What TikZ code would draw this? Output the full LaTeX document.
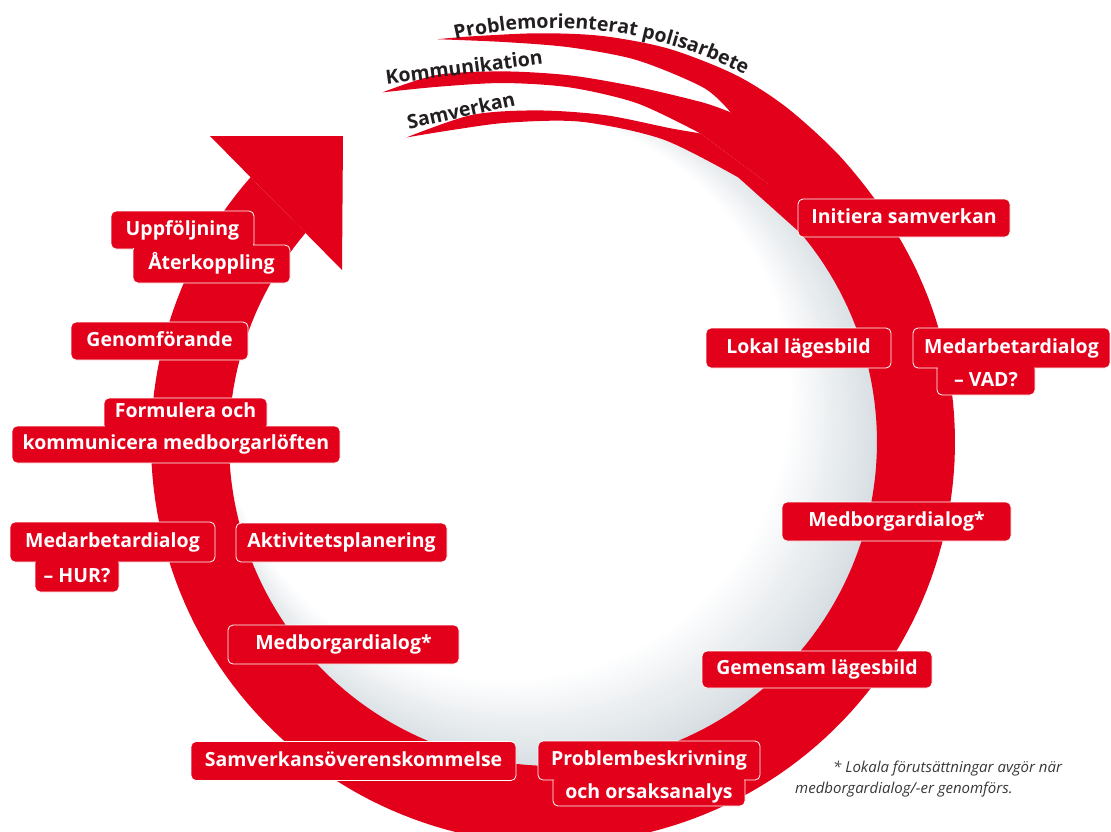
\documentclass[tikz,border=0pt]{standalone}
\usepackage{fontspec}
\setmainfont{Open Sans}
\usepackage{xcolor}
\usetikzlibrary{arrows,shapes,calc,positioning,decorations.text}
\definecolor{polred}{RGB}{226,0,26}
\definecolor{sphgray}{RGB}{208,216,222}
\definecolor{swoosh}{RGB}{35,31,32}
\definecolor{notegray}{RGB}{55,55,55}

\begin{document}
\begin{tikzpicture}[x=1pt, y=-1pt]
	\tikzstyle{pbox}=[rectangle, rounded corners=5pt, fill=polred, draw=white, line width=0.8pt, text=white, font=\fontsize{19.5}{22}\selectfont\bfseries, inner sep=0pt, outer sep=0pt, minimum height=38pt, text height=14.5pt, text depth=4pt]
	\tikzstyle{swtext}=[text=swoosh, font=\fontsize{19.5}{22}\selectfont\bfseries, inner sep=0pt]
	\useasboundingbox (0,0) rectangle (1111,831);
	\begin{scope}
		\clip (0,0) rectangle (1111,831);
		\begin{scope}
			\clip (553,442) circle[radius=328];
			\foreach \k in {0,...,40}{
				\pgfmathsetmacro{\tv}{\k/40}
				\pgfmathsetmacro{\gpct}{100*(1-\tv)}
				\fill[sphgray!\gpct!white] ({553-48*\tv},{442-47*\tv}) circle[radius={342-56*\tv}];
			}
		\end{scope}
		\fill[white] plot[domain=215:250, samples=20] ({553+300*cos(\x)},{442+300*sin(\x)}) -- plot[domain=250:215, samples=20] ({553+340*cos(\x)},{442+340*sin(\x)}) -- cycle;
		\fill[polred] plot[domain=-50:221.2, samples=160] ({553+402*cos(\x)},{442+402*sin(\x)}) -- plot[domain=220.2:-50, samples=160] ({553+324*cos(\x)},{442+324*sin(\x)}) -- cycle;
	\end{scope}
	\begin{scope}[shift={(553,442)}]
		\fill[polred] plot[smooth] coordinates {(-106:419) (-101.6:414) (-92:409) (-83:409) (-73.5:410) (-63.5:410) (-55:408) (-45:405) (-35:403) (-25:402)} -- (-25:380) -- plot[smooth] coordinates {(-61.7:374.5) (-67:385) (-77.6:391) (-87.5:395) (-97:403) (-106:419)} -- cycle;
		\fill[polred] plot[smooth] coordinates {(-116:389) (-107.6:385) (-97.7:374) (-87.3:367) (-76.6:365) (-66.3:371) (-61.7:374.5)} -- (-40:372) -- (-40:345) -- plot[smooth] coordinates {(-64.5:342) (-76:349) (-87.3:355) (-98:362.5) (-108:373.5) (-116:389)} -- cycle;
		\fill[polred] plot[smooth] coordinates {(-115.7:338) (-104:337) (-92.8:332) (-81:331) (-69.5:335) (-64.5:342)} -- (-40:345) -- (-40:324) -- plot[smooth] coordinates {(-55:323) (-70:322) (-85:321.5) (-98:322.5) (-108:328) (-115.7:338)} -- cycle;
	\end{scope}
	\fill[polred] (210,136) -- (343,136) -- (342,270) -- cycle;
	\path[decorate, decoration={text along path, text={|\fontsize{19.5}{22}\selectfont\bfseries\color{swoosh}|Problemorienterat polisarbete}, text align={center}}] plot[domain=-109:-57, samples=60] ({553+414*cos(\x)},{442+414*sin(\x)});
	\node[swtext, rotate=7.5] (komm) at (464,67) {Kommunikation};
	\node[swtext, rotate=12.5] (samv) at (461,110) {Samverkan};
	\node[pbox, minimum width=212pt] (init) at (904,218) {Initiera samverkan};
	\node[pbox, minimum width=185pt, minimum height=40pt] (lokal) at (798.5,348) {Lokal lägesbild};
	\node[pbox, minimum width=98pt, minimum height=35pt, text height=22.5pt] (vadlo) at (986,377.5) {– VAD?};
	\node[pbox, minimum width=197pt, minimum height=40pt] (vadhi) at (1011.5,348) {Medarbetardialog};
	\fill[polred] ($(vadlo.west |- vadhi.south)+(1.2,-2.2)$) rectangle ($(vadlo.east |- vadhi.south)+(-1.2,2.2)$);
	\node[pbox, minimum width=229pt, minimum height=39pt] (medhoger) at (896.5,521.5) {Medborgardialog*};
	\node[pbox, minimum width=230pt, minimum height=37pt] (gemensam) at (817,669.5) {Gemensam lägesbild};
	\node[pbox, minimum width=192pt, minimum height=34pt, text height=22.5pt] (problo) at (649,789) {och orsaksanalys};
	\node[pbox, minimum width=222pt, minimum height=39pt] (probhi) at (649,760.5) {Problembeskrivning};
	\fill[polred] ($(problo.west |- probhi.south)+(1.2,-2.2)$) rectangle ($(problo.east |- probhi.south)+(-1.2,2.2)$);
	\node[pbox, minimum width=325pt, minimum height=39pt] (samov) at (353.5,761) {Samverkansöverenskommelse};
	\node[pbox, minimum width=231pt, minimum height=39pt] (medvanster) at (343.5,644.5) {Medborgardialog*};
	\node[pbox, minimum width=211pt, minimum height=39pt] (aktiv) at (341.5,542.5) {Aktivitetsplanering};
	\node[pbox, minimum width=84pt, minimum height=38pt, text height=22.5pt] (hurlo) at (77,573) {– HUR?};
	\node[pbox, minimum width=205pt, minimum height=40pt] (hurhi) at (112.5,542) {Medarbetardialog};
	\fill[polred] ($(hurlo.west |- hurhi.south)+(1.2,-2.2)$) rectangle ($(hurlo.east |- hurhi.south)+(-1.2,2.2)$);
	\node[pbox, minimum width=163pt, minimum height=36pt, text depth=12pt] (formhi) at (185.5,416) {Formulera och};
	\node[pbox, minimum width=328pt, minimum height=37pt] (formlo) at (176,444.5) {kommunicera medborgarlöften};
	\fill[polred] ($(formhi.west |- formlo.north)+(1.2,-2.2)$) rectangle ($(formhi.east |- formlo.north)+(-1.2,2.2)$);
	\node[pbox, minimum width=177pt] (genom) at (159.5,341) {Genomförande};
	\node[pbox, minimum width=143pt] (upp) at (182.5,230) {Uppföljning};
	\node[pbox, minimum width=157pt] (ater) at (211.5,264) {Återkoppling};
	\fill[polred] ($(ater.north west)+(-0.6,-1.6)$) rectangle ($(upp.south east)+(-1.2,-0.8)$);
	\node[anchor=north west, align=left, inner sep=0pt, text=notegray, font=\fontsize{15}{20.5}\selectfont\itshape] (fotnot) at (795,761) {\hspace*{38pt}* Lokala förutsättningar avgör när\\medborgardialog/-er genomförs.};
\end{tikzpicture}
\end{document}
